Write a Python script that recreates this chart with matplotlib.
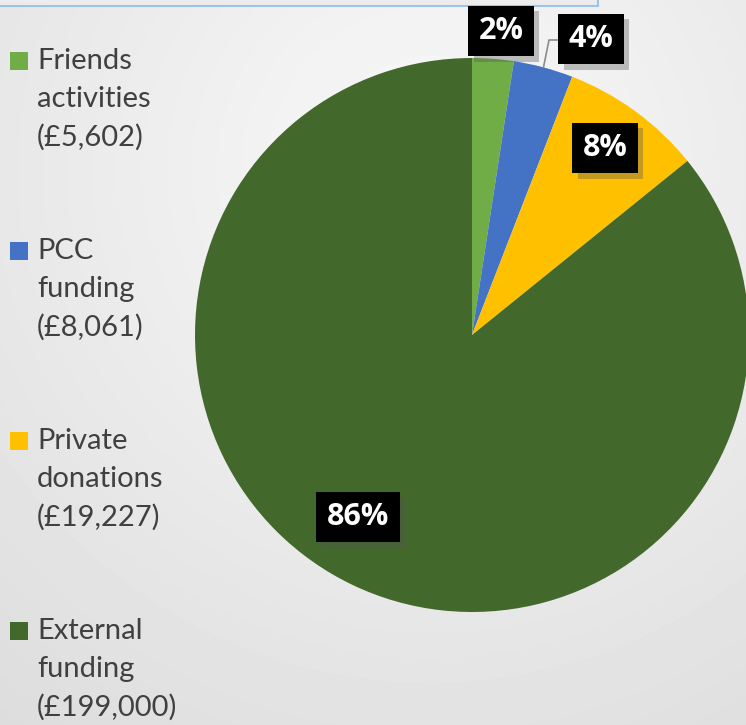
import numpy as np
import matplotlib.pyplot as plt
import matplotlib.patheffects as pe
from matplotlib.patches import Rectangle

categories = ["Friends\nactivities\n(£5,602)", "PCC\nfunding\n(£8,061)",
              "Private\ndonations\n(£19,227)", "External\nfunding\n(£199,000)"]
amounts = [5602, 8061, 19227, 199000]
pct_labels = ["2%", "4%", "8%", "86%"]
colors = ["#70AD47", "#4472C4", "#FFC000", "#43682B"]

W, H = 746, 725
fig = plt.figure(figsize=(W / 100, H / 100), dpi=100)
ax = fig.add_axes([0, 0, 1, 1])

# soft radial background, lighter near the top middle
yy, xx = np.mgrid[0:H, 0:W]
d = np.sqrt((xx - 430) ** 2 + (yy - 170) ** 2) / 700
bg = 0.975 - 0.11 * np.clip(d, 0, 1)
ax.imshow(bg, cmap="gray", vmin=0, vmax=1, extent=(0, W, 0, H),
          origin="upper", zorder=0)

# frame at top
ax.add_patch(Rectangle((-5, H - 6), 603, 20, facecolor="#ececec",
                       edgecolor="#9DC3E6", lw=1.5, zorder=1))

cx, cy, r = 472, H - 335, 277
wedges, _ = ax.pie(amounts, colors=colors, startangle=90, counterclock=False,
                   center=(cx, cy), radius=r, frame=True,
                   wedgeprops=dict(linewidth=0))
ax.set_xlim(0, W)
ax.set_ylim(0, H)
ax.axis("off")

# percentage label positions (pixels from top-left)
label_pos = [(501, 31), (591, 39), (605, 148), (358, 517)]
for lab, (px, py) in zip(pct_labels, label_pos):
    t = ax.text(px, H - py, lab, ha="center", va="center", color="white",
                fontsize=22, fontweight="bold", family="Open Sans", zorder=5,
                bbox=dict(boxstyle="square,pad=0.34", fc="black", ec="none"))
    t.get_bbox_patch().set_path_effects(
        [pe.SimplePatchShadow(offset=(4, -4), shadow_rgbFace="#555555", alpha=0.35),
         pe.Normal()])

# leader line for the PCC slice
w = wedges[1]
mid = np.deg2rad((w.theta1 + w.theta2) / 2)
ex, ey = cx + r * np.cos(mid), cy + r * np.sin(mid)
ax.plot([ex, 549, 561], [ey, H - 40, H - 40], color="#8c8c8c", lw=1.2, zorder=4)

# legend
for i, (cat, col) in enumerate(zip(categories, colors)):
    top = 52 + i * 190
    ax.add_patch(Rectangle((10, H - top - 18), 18, 18, facecolor=col,
                           edgecolor="none", zorder=3))
    ax.text(37, H - top + 4, cat, ha="left", va="top", color="#404040",
            fontsize=21, family="Lato", linespacing=1.56, zorder=3)

fig.savefig("out.png", dpi=100)
